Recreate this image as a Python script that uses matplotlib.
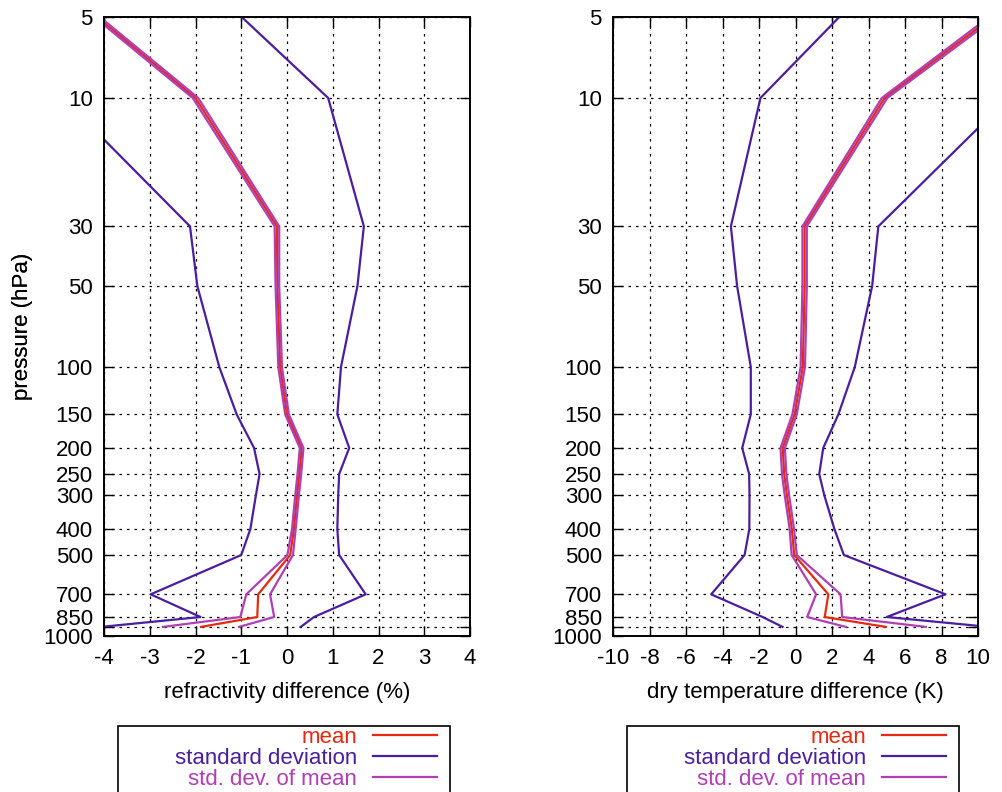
import matplotlib
matplotlib.use('Agg')
import matplotlib.pyplot as plt
from matplotlib.patches import Rectangle
import numpy as np

plt.rcParams['font.family'] = ['Liberation Sans', 'DejaVu Sans']
plt.rcParams['font.size'] = 16

# pressure levels (hPa)
levels = [5, 10, 30, 50, 100, 150, 200, 250, 300, 400, 500, 700, 850, 925]

# refractivity difference (%)
refr_mean = [-4.15, -2.0, -0.22, -0.21, -0.15, 0.0, 0.32, 0.27, 0.22, 0.15, 0.07, -0.63, -0.65, -1.88]
refr_sd = [3.16, 2.9, 1.9, 1.75, 1.33, 1.1, 1.04, 0.87, 0.9, 0.95, 1.07, 2.35, 1.24, 2.18]
refr_sem = [0.06, 0.06, 0.05, 0.04, 0.04, 0.04, 0.04, 0.04, 0.04, 0.04, 0.06, 0.26, 0.37, 0.83]

# dry temperature difference (K)
temp_mean = [10.8, 4.88, 0.5, 0.5, 0.4, -0.05, -0.7, -0.62, -0.47, -0.2, -0.07, 1.8, 1.6, 4.95]
temp_sd = [8.4, 6.8, 4.04, 3.7, 2.85, 2.4, 2.22, 1.92, 2.05, 2.33, 2.72, 6.42, 3.4, 5.66]
temp_sem = [0.2, 0.15, 0.12, 0.12, 0.12, 0.12, 0.12, 0.12, 0.12, 0.12, 0.14, 0.67, 0.96, 2.19]

ytick_vals = [5, 10, 30, 50, 100, 150, 200, 250, 300, 400, 500, 700, 850, 925, 1000]
ytick_labels = ['5', '10', '30', '50', '100', '150', '200', '250', '300', '400', '500', '700', '850', '', '1000']

legend_labels = ['mean', 'standard deviation', 'std. dev. of mean']

c_mean = '#e52a10'
c_sd = '#4a1e9e'
c_sem = '#b03fb5'

fig = plt.figure(figsize=(10.02, 7.92), dpi=100)

W, H = 1002.0, 792.0


def panel(x0, x1, mean, sd, sem, xlim, xticks, xlabel, box):
    ax = fig.add_axes([x0 / W, 1 - 636 / H, (x1 - x0) / W, 619 / H])
    p = np.array(levels, dtype=float)
    m = np.array(mean)
    s = np.array(sd)
    e = np.array(sem)

    lm, = ax.plot(m, p, color=c_mean, lw=1.6)
    ls, = ax.plot(m + s, p, color=c_sd, lw=1.6)
    ax.plot(m - s, p, color=c_sd, lw=1.6)
    le, = ax.plot(m + e, p, color=c_sem, lw=1.6)
    ax.plot(m - e, p, color=c_sem, lw=1.6)

    ax.set_yscale('log')
    ax.set_ylim(1000, 5)
    ax.set_xlim(*xlim)
    ax.set_yticks(ytick_vals, ytick_labels)
    ax.yaxis.set_minor_locator(plt.NullLocator())
    ax.set_xticks(xticks, [str(t) for t in xticks])

    ax.grid(True, color='black', linestyle=(0, (2, 4)), lw=0.9)
    ax.tick_params(direction='in', top=True, right=True, length=7, width=1.0)
    ax.tick_params(axis='y', pad=8)
    ax.tick_params(axis='x', pad=9)
    for sp in ax.spines.values():
        sp.set_linewidth(1.4)

    ax.set_ylabel('pressure (hPa)')
    ax.yaxis.set_label_coords((33 - x0) / (x1 - x0), 0.5)
    ax.set_xlabel(xlabel)
    ax.xaxis.set_label_coords(0.5, -0.074)

    # legend box (cut at the bottom of the figure)
    bx0, bx1 = box
    fig.add_artist(Rectangle((bx0 / W, -0.1), (bx1 - bx0) / W, 0.1 + (1 - 726 / H),
                             transform=fig.transFigure, fill=False, lw=1.2, ec='black'))
    ax.legend([lm, ls, le], legend_labels, loc='upper right',
              bbox_to_anchor=((bx1 - 13) / W, 1 - 727 / H), bbox_transform=fig.transFigure,
              frameon=False, markerfirst=False, labelcolor='linecolor',
              handlelength=2.9, handletextpad=0.7, labelspacing=0.0,
              borderpad=0, borderaxespad=0)
    return ax


panel(104, 470, refr_mean, refr_sd, refr_sem, (-4, 4), [-4, -3, -2, -1, 0, 1, 2, 3, 4],
      'refractivity difference (%)', (118, 450))
panel(613, 978, temp_mean, temp_sd, temp_sem, (-10, 10), [-10, -8, -6, -4, -2, 0, 2, 4, 6, 8, 10],
      'dry temperature difference (K)', (627, 959))

fig.savefig('out.png', dpi=100)
